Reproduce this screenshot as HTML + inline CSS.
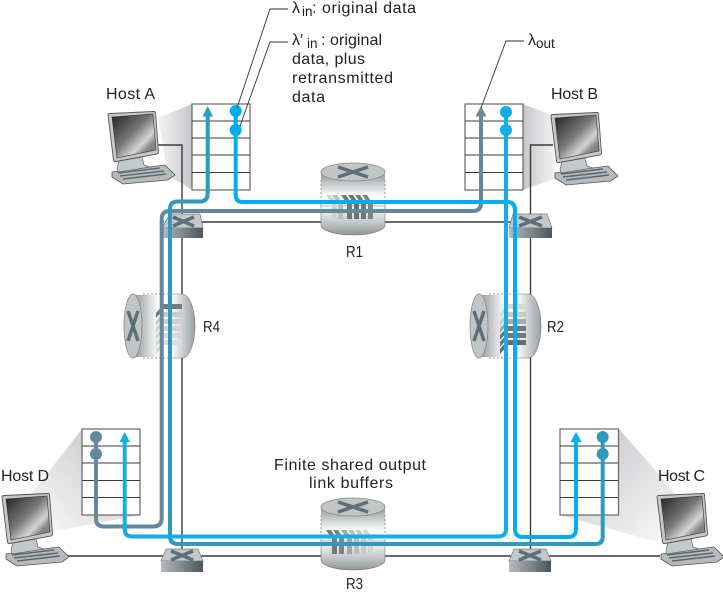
<!DOCTYPE html>
<html>
<head>
<meta charset="utf-8">
<style>
html,body{margin:0;padding:0;background:#fff;width:723px;height:594px;overflow:hidden}
svg{display:block}
text{font-family:"Liberation Sans",sans-serif;font-size:16px;fill:#222}
</style>
</head>
<body>
<svg width="723" height="594" viewBox="0 0 723 594" xmlns="http://www.w3.org/2000/svg">
<defs>
<linearGradient id="sa" x1="1" y1="0" x2="0" y2="0"><stop offset="0" stop-color="#c6c7ca"/><stop offset="1" stop-color="#f4f4f4"/></linearGradient>
<linearGradient id="sb" x1="0" y1="0" x2="1" y2="0"><stop offset="0" stop-color="#c6c7ca"/><stop offset="1" stop-color="#f4f4f4"/></linearGradient>
<linearGradient id="sd" x1="1" y1="0" x2="0" y2="1"><stop offset="0" stop-color="#bfc0c3"/><stop offset="1" stop-color="#fafafa"/></linearGradient>
<linearGradient id="sc" x1="0" y1="0" x2="1" y2="1"><stop offset="0" stop-color="#bfc0c3"/><stop offset="1" stop-color="#fafafa"/></linearGradient>
<linearGradient id="scr" x1="0" y1="0" x2="1" y2="1"><stop offset="0" stop-color="#222"/><stop offset=".45" stop-color="#777"/><stop offset=".68" stop-color="#d4d4d4"/><stop offset=".8" stop-color="#888"/><stop offset="1" stop-color="#777"/></linearGradient>
<linearGradient id="sw" x1="0" y1="0" x2="1" y2="0"><stop offset="0" stop-color="#b5bbbf"/><stop offset="1" stop-color="#48565e"/></linearGradient>
<linearGradient id="vt" x1="0" y1="0" x2="0" y2="1"><stop offset="0" stop-color="#8f9598"/><stop offset="1" stop-color="#fff"/></linearGradient>
<linearGradient id="vb" x1="0" y1="0" x2="0" y2="1"><stop offset="0" stop-color="#fff"/><stop offset=".55" stop-color="#c4c9cc"/><stop offset="1" stop-color="#8f9598"/></linearGradient>
<linearGradient id="ht" x1="0" y1="0" x2="1" y2="0"><stop offset="0" stop-color="#8f9598"/><stop offset="1" stop-color="#fff"/></linearGradient>
<linearGradient id="hb" x1="0" y1="0" x2="1" y2="0"><stop offset="0" stop-color="#fff"/><stop offset=".55" stop-color="#c4c9cc"/><stop offset="1" stop-color="#9aa0a3"/></linearGradient>
<g id="pc">
<path d="M112,172 L165,165 L175,175 L168,180 L123,184 L112,177 Z" fill="#b4babd" stroke="#555" stroke-width=".8"/>
<path d="M118,173 L160,168 M120,176 L164,171 M123,179 L166,174" stroke="#5b676e" stroke-width="1.400" fill="none"/>
<path d="M119,161 L142,157 L144,165 L150,167 L118,172 L117,168 Z" fill="#c3c8cb" stroke="#666" stroke-width=".7"/>
<path d="M108,115 Q108,113.500 110,113.500 L154,111.500 Q155.500,111.500 155.500,113 L158.500,152 Q158.500,153.500 157,154 L116,161.500 Q114,162 113.500,160 Z" fill="#c3c8cb" stroke="#555" stroke-width=".9"/>
<path d="M112,117 L153,114 L156,150 L117,158 Z" fill="url(#scr)" stroke="#333" stroke-width=".6"/>
</g>
<polygon id="vbar" points="0,0 5,0 11,9 11,24 6,24 6,9"/>
<polygon id="hbar" points="0,9 8,0 26,0 26,5 8,5 0,14"/>
</defs>

<!-- shading cones -->
<polygon points="192,104 158,118 168,175 192,190" fill="url(#sa)"/>
<polygon points="523,104 552,115 556,178 523,190" fill="url(#sb)"/>
<polygon points="82,429 32,493 50,532 140,515 82,515" fill="url(#sd)"/>
<polygon points="619,429 677,495 657,542 560,515 619,515" fill="url(#sc)"/>

<!-- wires -->
<g fill="none" stroke="#3a3a3a" stroke-width="1.400">
<path d="M158,145 H182 V556"/>
<path d="M553,145 H530.500 V556"/>
<path d="M182,222 H530"/>
<path d="M65,556 H660"/>
</g>

<!-- buffers -->
<g fill="#fff" stroke="#666" stroke-width="1.200">
<rect x="192" y="104" width="58" height="86"/>
<rect x="465" y="104" width="58" height="86"/>
<rect x="82" y="429" width="58" height="86"/>
<rect x="560" y="429" width="58.500" height="86"/>
</g>
<g fill="none" stroke="#3a3a3a" stroke-width="1">
<path d="M192,121 H250 M192,138 H250 M192,155 H250 M192,172.500 H250"/>
<path d="M465,121 H523 M465,138 H523 M465,155 H523 M465,172.500 H523"/>
<path d="M82,446 H140 M82,463 H140 M82,480.500 H140 M82,497.500 H140"/>
<path d="M560,446 H618 M560,463 H618 M560,480.500 H618 M560,497.500 H618"/>
</g>

<!-- hosts -->
<use href="#pc"/>
<use href="#pc" x="443" y="1"/>
<use href="#pc" x="-106" y="382"/>
<use href="#pc" x="549" y="382"/>

<!-- switches -->
<g>
<polygon points="170,214 200,214 203,228 162,228" fill="#c3c8cb" stroke="#777" stroke-width=".7"/>
<rect x="162" y="228" width="41" height="10" fill="url(#sw)"/>
<path d="M173,217 L194,226 M194,217 L173,226" stroke="#5f6f78" stroke-width="3.500" fill="none"/>
</g>
<g transform="translate(349,0)">
<polygon points="164,214 198,214 203,228 160,228" fill="#c3c8cb" stroke="#777" stroke-width=".7"/>
<rect x="160" y="228" width="43" height="10" fill="url(#sw)"/>
<path d="M170,217 L193,226 M193,217 L170,226" stroke="#5f6f78" stroke-width="3.500" fill="none"/>
</g>
<g transform="translate(0,335)">
<polygon points="166,214 198,214 203,226 161,226" fill="#c3c8cb" stroke="#777" stroke-width=".7"/>
<rect x="161" y="226" width="42" height="11" fill="url(#sw)"/>
<path d="M171,216 L193,225 M193,216 L171,225" stroke="#5f6f78" stroke-width="3.500" fill="none"/>
</g>
<g transform="translate(348,335)">
<polygon points="166,214 198,214 203,226 161,226" fill="#c3c8cb" stroke="#777" stroke-width=".7"/>
<rect x="161" y="226" width="42" height="11" fill="url(#sw)"/>
<path d="M171,216 L193,225 M193,216 L171,225" stroke="#5f6f78" stroke-width="3.500" fill="none"/>
</g>

<!-- R1 -->
<g>
<rect x="321" y="172" width="64" height="34" fill="#fff"/>
<rect x="321" y="172" width="64" height="24" fill="url(#vt)"/>
<path d="M321,206 V225 A32,10 0 0 0 385,225 V206 Z" fill="url(#vb)" stroke="#777" stroke-width=".6"/>
<path d="M321,180 V206 M385,180 V206" stroke="#999" stroke-width="1" stroke-dasharray="2 2" fill="none"/>
<ellipse cx="353" cy="172" rx="32" ry="9" fill="#c0c5c8" stroke="#8a8a8a" stroke-width=".8"/>
<path d="M338,167 L368,177 M368,167 L338,177" stroke="#5f6f78" stroke-width="3.500" fill="none"/>
<use href="#vbar" x="326" y="195" fill="#d2d2d2"/>
<use href="#vbar" x="332" y="195" fill="#bdbdbd"/>
<use href="#vbar" x="341" y="195" fill="#75787b"/>
<use href="#vbar" x="348" y="195" fill="#6e7174"/>
<use href="#vbar" x="355" y="195" fill="#75787b"/>
<use href="#vbar" x="362" y="195" fill="#808285"/>
</g>

<!-- R3 -->
<g transform="translate(0,335)">
<rect x="321" y="172" width="64" height="34" fill="#fff"/>
<rect x="321" y="172" width="64" height="24" fill="url(#vt)"/>
<path d="M321,206 V225 A32,10 0 0 0 385,225 V206 Z" fill="url(#vb)" stroke="#777" stroke-width=".6"/>
<path d="M321,180 V206 M385,180 V206" stroke="#999" stroke-width="1" stroke-dasharray="2 2" fill="none"/>
<ellipse cx="353" cy="172" rx="32" ry="9" fill="#c0c5c8" stroke="#8a8a8a" stroke-width=".8"/>
<path d="M338,167 L368,177 M368,167 L338,177" stroke="#5f6f78" stroke-width="3.500" fill="none"/>
<use href="#vbar" x="326" y="195" fill="#75787b"/>
<use href="#vbar" x="333" y="195" fill="#808285"/>
<use href="#vbar" x="341" y="195" fill="#a5a7a9"/>
<use href="#vbar" x="348" y="195" fill="#bcbec0"/>
<use href="#vbar" x="355" y="195" fill="#c8cacb"/>
<use href="#vbar" x="362" y="195" fill="#d2d3d4"/>
</g>

<!-- R4 -->
<g>
<rect x="133" y="294" width="40" height="64" fill="#fff"/>
<rect x="133" y="295" width="26" height="62" fill="url(#ht)"/>
<path d="M171,294 H182 A13,32 0 0 1 182,358 H171 Z" fill="url(#hb)" stroke="#777" stroke-width=".6"/>
<path d="M143,294 H171 M143,358 H171" stroke="#999" stroke-width="1" stroke-dasharray="2 2" fill="none"/>
<ellipse cx="133" cy="326" rx="9" ry="32" fill="#c0c5c8" stroke="#8a8a8a" stroke-width=".8"/>
<path d="M128,311 L138,341 M138,311 L128,341" stroke="#5f6f78" stroke-width="3.500" fill="none"/>
<use href="#hbar" x="156" y="304" fill="#75787b"/>
<use href="#hbar" x="156" y="312" fill="#c9c9c9"/>
<use href="#hbar" x="156" y="319" fill="#cfcfcf"/>
<use href="#hbar" x="156" y="326" fill="#d4d4d4"/>
<use href="#hbar" x="156" y="333" fill="#d8d8d8"/>
<use href="#hbar" x="156" y="340" fill="#dcdcdc"/>
</g>

<!-- R2 -->
<g transform="translate(346,0)">
<rect x="133" y="294" width="40" height="64" fill="#fff"/>
<rect x="133" y="295" width="26" height="62" fill="url(#ht)"/>
<path d="M171,294 H182 A13,32 0 0 1 182,358 H171 Z" fill="url(#hb)" stroke="#777" stroke-width=".6"/>
<path d="M143,294 H171 M143,358 H171" stroke="#999" stroke-width="1" stroke-dasharray="2 2" fill="none"/>
<ellipse cx="133" cy="326" rx="9" ry="32" fill="#c0c5c8" stroke="#8a8a8a" stroke-width=".8"/>
<path d="M128,311 L138,341 M138,311 L128,341" stroke="#5f6f78" stroke-width="3.500" fill="none"/>
<use href="#hbar" x="154" y="304" fill="#d8d8d8"/>
<use href="#hbar" x="154" y="312" fill="#c9c9c9"/>
<use href="#hbar" x="154" y="319" fill="#a8a8a8"/>
<use href="#hbar" x="154" y="326" fill="#75787b"/>
<use href="#hbar" x="154" y="333" fill="#75787b"/>
<use href="#hbar" x="154" y="340" fill="#696c6f"/>
</g>

<!-- data paths -->
<g fill="none" stroke-width="4">
<path stroke="#64899f" d="M96,437 V519 Q96,526.500 104,526.500 H153 Q161.700,526.500 161.700,518 V219 Q161.700,211 170,211 H473 Q481,211 481,203 V115"/>
<path stroke="#2e9abf" d="M602.700,437 V537 Q602.700,544 595,544 H178 Q170,544 170,536 V209 Q170,201.500 178,201.500 H200 Q207.700,201.500 207.700,193 V115"/>
<path stroke="#12afe6" d="M506,112 V529 Q506,536.500 498,536.500 H132 Q124.700,536.500 124.700,529 V440"/>
<path stroke="#00aeef" d="M235.700,111 V195 Q235.700,202 243,202 H507 Q515,202 515,210 V529 Q515,537 523,537 H568 Q576,537 576,529 V440"/>
</g>
<!-- arrowheads -->
<polygon points="207.700,106 213,116.500 202.500,116.500" fill="#2e9abf"/>
<polygon points="481,106 486.500,116.500 475.500,116.500" fill="#64899f"/>
<polygon points="124.700,432 130,442 119.500,442" fill="#12afe6"/>
<polygon points="576,432 581.500,442 570.500,442" fill="#00aeef"/>
<!-- dots -->
<g fill="#00aeef"><circle cx="235.700" cy="111" r="6"/><circle cx="235.700" cy="130" r="6"/></g>
<g fill="#12afe6"><circle cx="506" cy="112" r="6"/><circle cx="506" cy="130" r="6"/></g>
<g fill="#64899f"><circle cx="96" cy="437" r="6"/><circle cx="96" cy="454" r="6"/></g>
<g fill="#2e9abf"><circle cx="602.700" cy="437" r="6"/><circle cx="602.700" cy="454" r="6"/></g>

<!-- leaders -->
<g fill="none" stroke="#333" stroke-width=".9">
<path d="M288,9 H270 L237,108"/>
<path d="M288,42 H270 L240,126"/>
<path d="M524,41 H506 L481,108"/>
</g>

<!-- labels -->
<text x="292" y="13">λ<tspan x="302" dy="3" font-size="13.500">in</tspan></text>
<text x="312" y="13" textLength="104" lengthAdjust="spacing">: original data</text>
<text x="292" y="45">λ′<tspan x="307" dy="3" font-size="13.500">in</tspan></text>
<text x="321" y="45" textLength="61" lengthAdjust="spacing">: original</text>
<text x="292" y="64" textLength="73" lengthAdjust="spacing">data, plus</text>
<text x="292" y="83" textLength="101" lengthAdjust="spacing">retransmitted</text>
<text x="292" y="102" textLength="33" lengthAdjust="spacing">data</text>
<text x="528" y="45">λ<tspan dy="3" font-size="13.500">out</tspan></text>
<text x="106" y="99" textLength="49" lengthAdjust="spacing">Host A</text>
<text x="551" y="99" textLength="47" lengthAdjust="spacing">Host B</text>
<text x="1" y="481" textLength="48" lengthAdjust="spacing">Host D</text>
<text x="658" y="481" textLength="47" lengthAdjust="spacing">Host C</text>
<text x="346" y="257" font-size="16.500" textLength="17" lengthAdjust="spacingAndGlyphs">R1</text>
<text x="203" y="332" font-size="16.500" textLength="17" lengthAdjust="spacingAndGlyphs">R4</text>
<text x="547" y="332" font-size="16.500" textLength="17" lengthAdjust="spacingAndGlyphs">R2</text>
<text x="346" y="589" font-size="16.500" textLength="17" lengthAdjust="spacingAndGlyphs">R3</text>
<text x="274" y="470" textLength="152" lengthAdjust="spacing">Finite shared output</text>
<text x="309" y="488" textLength="84" lengthAdjust="spacing">link buffers</text>
</svg>
</body>
</html>
